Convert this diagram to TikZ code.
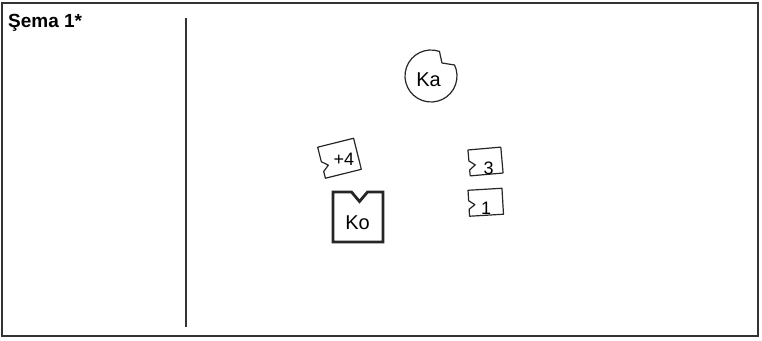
\documentclass[tikz,border=0pt]{standalone}
\usepackage{fontspec}
\setmainfont{Liberation Sans}
\usetikzlibrary{calc}
\begin{document}
\begin{tikzpicture}[x=1pt,y=1pt,
  frame/.style={draw=black!80,line width=1.2pt},
  piece/.style={draw=black!85,line width=1.2pt,line join=round,fill=white},
  kobox/.style={draw=black!85,line width=2.8pt,line join=miter},
  num/.style={inner sep=0pt,font=\fontsize{18}{18}\selectfont},
  lbl/.style={inner sep=0pt,font=\fontsize{20}{20}\selectfont}]
\useasboundingbox (0,0) rectangle (762,340);
% frame
\draw[frame] (2,4) rectangle (758,337);
\draw[black!80,line width=2pt] (1,4) -- (759,4);
\draw[black!80,line width=1.2pt] (186,322) -- (186,13);
\node[anchor=base west,inner sep=0pt,font=\bfseries\fontsize{19}{19}\selectfont] (title) at (8,312) {Şema 1*};
% Ka circle with notch
\coordinate (kac) at (431,264);
\draw[piece] ($(kac)+(71:26)$) arc[start angle=71,end angle=385,radius=26]
  -- ($(kac)+(50:17)$) -- cycle;
\node[lbl] (ka) at (428.5,260) {Ka};
% +4 piece
\begin{scope}[shift={(339.5,181.75)},rotate=14]
\draw[piece] (-18.5,16) -- (18.5,16) -- (18.5,-16) -- (-18.5,-16) -- (-18.5,-9)
  -- (-12.5,-4) -- (-18.5,1) -- cycle;
\node[num] (p4) at (4,-2) {+4};
\end{scope}
% 3 piece
\begin{scope}[shift={(485.5,178.5)},rotate=5]
\draw[piece] (-16.5,13) -- (16.5,13) -- (16.5,-13) -- (-16.5,-13) -- (-16.5,-7)
  -- (-10.5,-2.5) -- (-16.5,2) -- cycle;
\node[num] (p3) at (2.5,-7.5) {3};
\end{scope}
% 1 piece
\begin{scope}[shift={(485.75,137.75)},rotate=3.4]
\draw[piece] (-17,13) -- (17,13) -- (17,-13) -- (-17,-13) -- (-17,-6)
  -- (-11,-1.75) -- (-17,2.5) -- cycle;
\node[num] (p1) at (0,-6) {1};
\end{scope}
% Ko box
\draw[kobox] (333,148) -- (351.5,148) -- (359.5,138.5) -- (367.5,148) -- (383,148)
  -- (383,98) -- (333,98) -- cycle;
\node[inner sep=0pt,font=\fontsize{20}{20}\selectfont] (ko) at (357.5,117.5) {Ko};
\end{tikzpicture}
\end{document}
